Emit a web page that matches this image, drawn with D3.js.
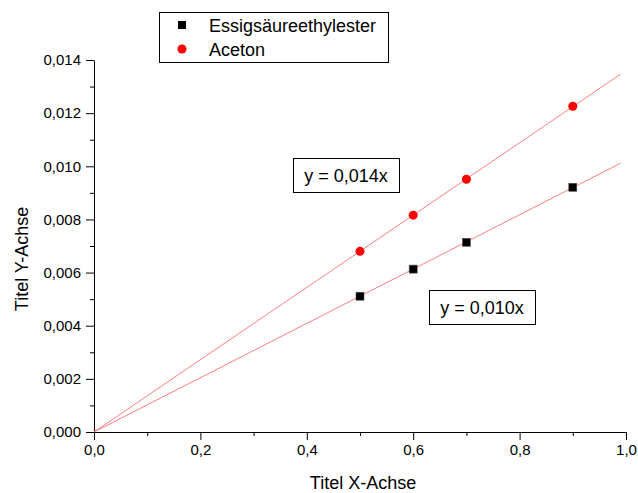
<!DOCTYPE html>
<html><head><meta charset="utf-8">
<script src="https://cdn.jsdelivr.net/npm/d3@7"></script>
<style>body{margin:0;background:#fff}svg{display:block}text{font-family:"Liberation Sans",Arial,sans-serif}</style>
</head><body>
<script>
const xValues = [0.5, 0.6, 0.7, 0.9];
const esterValues = [0.00511, 0.00613, 0.00714, 0.00921];
const acetonValues = [0.00680, 0.00816, 0.00951, 0.01226];
const seriesNames = ["Essigsäureethylester", "Aceton"];
const fitLabels = ["y = 0,010x", "y = 0,014x"];
const fitRange = [0, 0.99];
const xTicks = [0, 0.2, 0.4, 0.6, 0.8, 1.0];
const yTicks = [0, 0.002, 0.004, 0.006, 0.008, 0.010, 0.012, 0.014];

const W = 638, H = 493;
const svg = d3.select("body").append("svg").attr("width", W).attr("height", H);
const x = d3.scaleLinear().domain([0, 1]).range([94, 626]);
const y = d3.scaleLinear().domain([0, 0.014]).range([432, 60]);
const fmtX = v => d3.format(".1f")(v).replace(".", ",");
const fmtY = v => d3.format(".3f")(v).replace(".", ",");

// axes
svg.append("g").attr("transform", "translate(0,432)")
  .call(d3.axisBottom(x).tickValues(xTicks).tickFormat(fmtX).tickSizeInner(8).tickSizeOuter(0).tickPadding(4));
svg.append("g").attr("transform", "translate(0,432)")
  .call(d3.axisBottom(x).tickValues(d3.range(0.1, 1, 0.2)).tickFormat("").tickSizeInner(4).tickSizeOuter(0))
  .select(".domain").remove();
svg.append("g").attr("transform", "translate(94,0)")
  .call(d3.axisLeft(y).tickValues(yTicks).tickFormat(fmtY).tickSizeInner(8).tickSizeOuter(0).tickPadding(5));
svg.append("g").attr("transform", "translate(94,0)")
  .call(d3.axisLeft(y).tickValues(d3.range(0.001, 0.014, 0.002)).tickFormat("").tickSizeInner(4).tickSizeOuter(0))
  .select(".domain").remove();
svg.selectAll(".tick text").attr("font-size", 15).attr("fill", "#000").attr("font-family", "Liberation Sans, Arial, sans-serif");
svg.selectAll(".domain, .tick line").attr("stroke", "#000");

svg.append("text").attr("x", 363).attr("y", 489).attr("text-anchor", "middle").attr("font-size", 18).text("Titel X-Achse");
svg.append("text").attr("transform", "translate(28,259) rotate(-90)").attr("text-anchor", "middle").attr("font-size", 18).text("Titel Y-Achse");

// fits through origin
function slope(ys) { return d3.sum(xValues, (v, i) => v * ys[i]) / d3.sum(xValues, v => v * v); }
const line = d3.line().x(d => x(d[0])).y(d => y(d[1]));
[esterValues, acetonValues].forEach(ys => {
  const m = slope(ys);
  svg.append("path").attr("d", line(fitRange.map(v => [v, m * v])))
    .attr("stroke", "#ff7f7f").attr("stroke-width", 1).attr("fill", "none");
});

// markers
svg.selectAll("rect.pt").data(xValues).enter().append("rect")
  .attr("x", (d) => x(d) - 4).attr("y", (d, i) => y(esterValues[i]) - 4)
  .attr("width", 8).attr("height", 8).attr("fill", "#000").attr("stroke", "#555").attr("stroke-width", 0.6);
svg.selectAll("circle.pt").data(xValues).enter().append("circle")
  .attr("cx", d => x(d)).attr("cy", (d, i) => y(acetonValues[i])).attr("r", 4.5).attr("fill", "#ff0000");

// fit label boxes
function labelBox(x0, y0, w, h, t) {
  svg.append("rect").attr("x", x0 + 0.5).attr("y", y0 + 0.5).attr("width", w).attr("height", h)
    .attr("fill", "#fff").attr("stroke", "#000").attr("stroke-width", 1);
  svg.append("text").attr("x", x0 + w / 2).attr("y", y0 + h / 2 + 6.5).attr("text-anchor", "middle")
    .attr("font-size", 18).text(t);
}
labelBox(293, 158, 106, 34, fitLabels[1]);
labelBox(429, 290, 106, 34, fitLabels[0]);

// legend
svg.append("rect").attr("x", 159.5).attr("y", 12.5).attr("width", 229).attr("height", 50)
  .attr("fill", "#fff").attr("stroke", "#000").attr("stroke-width", 1);
svg.append("rect").attr("x", 178).attr("y", 21).attr("width", 8).attr("height", 8).attr("fill", "#000");
svg.append("circle").attr("cx", 182).attr("cy", 49).attr("r", 4.5).attr("fill", "#ff0000");
svg.append("text").attr("x", 209).attr("y", 31.5).attr("font-size", 18).text(seriesNames[0]);
svg.append("text").attr("x", 209).attr("y", 55.5).attr("font-size", 18).text(seriesNames[1]);
</script>
</body></html>
